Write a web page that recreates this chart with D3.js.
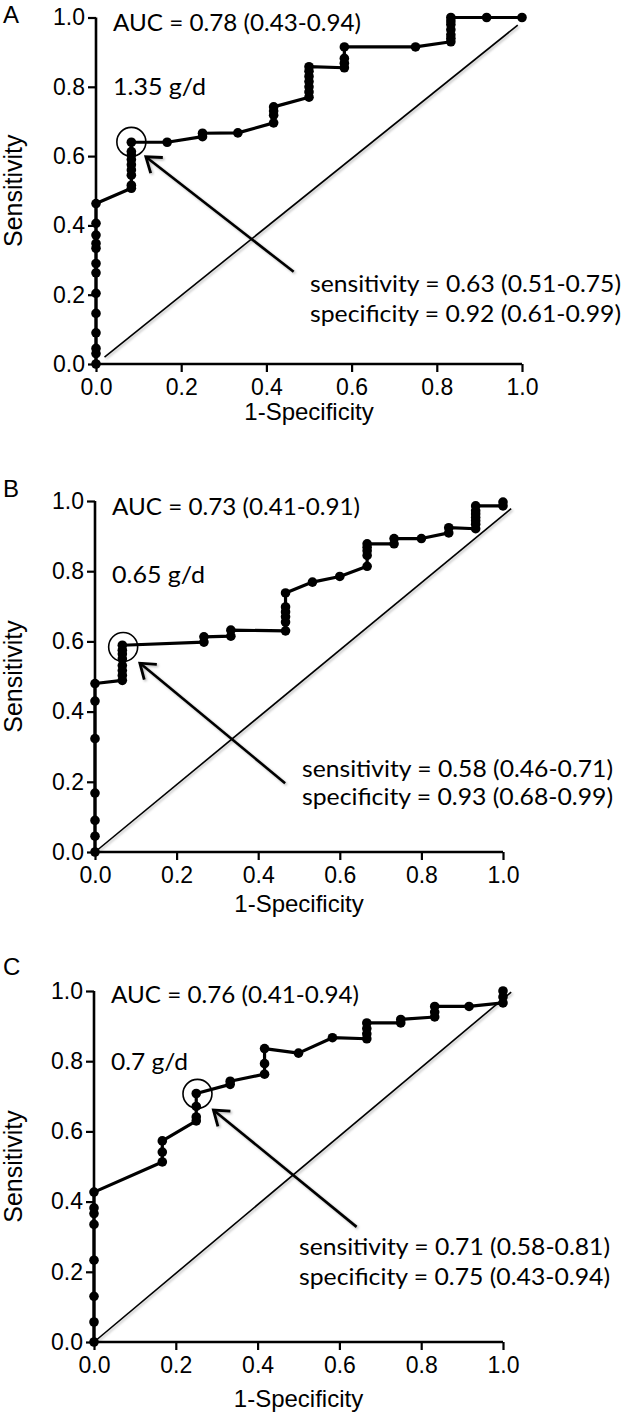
<!DOCTYPE html>
<html><head><meta charset="utf-8">
<script src="https://cdn.jsdelivr.net/npm/d3@7"></script>
<style>body{margin:0;background:#fff}svg{display:block}</style>
</head><body><svg id="c" width="624" height="1418"></svg>
<script>
// ---------- data ----------
const tickValues = [0.0, 0.2, 0.4, 0.6, 0.8, 1.0];
const panelLetters = ["A", "B", "C"];
const xTitle = "1-Specificity";
const yTitle = "Sensitivity";
const aucLabels = ["AUC = 0.78 (0.43-0.94)", "AUC = 0.73 (0.41-0.91)", "AUC = 0.76 (0.41-0.94)"];
const cutoffLabels = ["1.35 g/d", "0.65 g/d", "0.7 g/d"];
const sensLabels = ["sensitivity = 0.63 (0.51-0.75)", "sensitivity = 0.58 (0.46-0.71)", "sensitivity = 0.71 (0.58-0.81)"];
const specLabels = ["specificity = 0.92 (0.61-0.99)", "specificity = 0.93 (0.68-0.99)", "specificity = 0.75 (0.43-0.94)"];

const fprA = [0,0,0,0,0,0,0,0,0,0,0,0,0,
  0.083,0.083,0.083,0.083,0.083,0.083,0.083,0.083,0.083,
  0.167, 0.25,0.25, 0.333, 0.417,0.417,0.417,0.417,
  0.5,0.5,0.5,0.5,0.5,0.5,0.5, 0.583,0.583,0.583,0.583, 0.75,
  0.833,0.833,0.833,0.833,0.833,0.833,0.833, 0.917, 1.0];
const tprA = [0,0.03,0.045,0.09,0.146,0.204,0.263,0.29,0.334,0.348,0.372,0.406,0.463,
  0.507,0.516,0.545,0.56,0.575,0.59,0.603,0.613,0.64,
  0.64, 0.656,0.666, 0.667, 0.696,0.718,0.73,0.742,
  0.77,0.785,0.8,0.815,0.83,0.845,0.858, 0.855,0.868,0.882,0.915, 0.915,
  0.93,0.94,0.95,0.965,0.98,0.99,1.0, 1.0, 1.0];

const fprB = [0,0,0,0,0,0,0,
  0.067,0.067,0.067,0.067,0.067,0.067,0.067,0.067,
  0.267,0.267, 0.333,0.333, 0.467,0.467,0.467,0.467,0.467,0.467,
  0.533, 0.6, 0.667,0.667,0.667,0.667,0.667, 0.733,0.733, 0.8, 0.867,0.867,
  0.933,0.933,0.933,0.933,0.933,0.933,0.933, 1.0,1.0];
const tprB = [0,0.045,0.09,0.168,0.323,0.43,0.48,
  0.489,0.503,0.517,0.531,0.55,0.564,0.575,0.589,
  0.598,0.613, 0.615,0.632, 0.63,0.655,0.67,0.684,0.698,0.738,
  0.769, 0.785, 0.814,0.845,0.858,0.868,0.878, 0.878,0.893, 0.893, 0.909,0.924,
  0.921,0.934,0.944,0.953,0.963,0.972,0.986, 0.986,0.997];

const fprC = [0,0,0,0,0,0,0,0,
  0.167,0.167,0.167, 0.25,0.25,0.25,0.25, 0.333,0.333, 0.417,0.417,0.417,
  0.5, 0.583, 0.667,0.667,0.667,0.667, 0.75,0.75, 0.833,0.833,0.833, 0.917, 1.0,1.0,1.0];
const tprC = [0,0.057,0.13,0.233,0.335,0.366,0.382,0.427,
  0.513,0.541,0.573, 0.63,0.641,0.671,0.708, 0.734,0.743, 0.763,0.793,0.836,
  0.823, 0.867, 0.864,0.878,0.893,0.909, 0.909,0.919, 0.926,0.94,0.956, 0.956, 0.966,0.983,1.0];

// selected cut-off point (circled) and arrow (tail, tip) in data units
const cutPointX = [0.083, 0.069, 0.253];
const cutPointY = [0.641, 0.584, 0.707];
const arrowTailX = [0.464, 0.466, 0.642];
const arrowTailY = [0.266, 0.196, 0.328];
const arrowTipX = [0.117, 0.110, 0.292];
const arrowTipY = [0.598, 0.538, 0.661];
// chance reference line ends
const refStartX = [0.02, 0.0, 0.0], refStartY = [0.02, 0.0, 0.0];
const refEndX = [0.99, 1.02, 1.02], refEndY = [0.978, 0.978, 0.997];

const fprs = [fprA, fprB, fprC];
const tprs = [tprA, tprB, tprC];

// ---------- layout ----------
const layout = [
  {x0: 96, x1: 522, y0: 364, y1: 17.5, letterY: 23, titleY: 420, aucY: 30.5, cutY: 95, sensX: 310, sensY: 292, specY: 322, txtX: 113, cutW: 93},
  {x0: 95, x1: 503, y0: 852, y1: 501, letterY: 497, titleY: 912, aucY: 515, cutY: 583, sensX: 302, sensY: 777, specY: 805, txtX: 112, cutW: 93},
  {x0: 94, x1: 503, y0: 1342, y1: 991, letterY: 975, titleY: 1407, aucY: 1003, cutY: 1070, sensX: 299, sensY: 1255, specY: 1285, txtX: 111, cutW: 77}
];

const svg = d3.select("#c");
const defs = svg.append("defs");
const f = defs.append("filter").attr("id", "sh").attr("x", "-10%").attr("y", "-10%").attr("width", "130%").attr("height", "130%");
f.append("feDropShadow").attr("dx", 1.5).attr("dy", 1.5).attr("stdDeviation", 1.2)
  .attr("flood-color", "#000").attr("flood-opacity", 0.28);

const axisFont = "'Liberation Sans', Arial, Helvetica, sans-serif";
const annFont = "Lato, 'Open Sans', sans-serif";

layout.forEach((L, i) => {
  const g = svg.append("g");
  const x = d3.scaleLinear().domain([0, 1]).range([L.x0, L.x1]);
  const y = d3.scaleLinear().domain([0, 1]).range([L.y0, L.y1]);

  // chance line
  g.append("line")
    .attr("x1", x(refStartX[i])).attr("y1", y(refStartY[i]))
    .attr("x2", x(refEndX[i])).attr("y2", y(refEndY[i]))
    .attr("stroke", "#000").attr("stroke-width", 1.6).attr("filter", "url(#sh)");

  // axes
  const xa = g.append("g").attr("transform", `translate(0,${L.y0})`)
    .call(d3.axisBottom(x).tickValues(tickValues).tickFormat(d3.format(".1f")).tickSize(8).tickPadding(5));
  const ya = g.append("g").attr("transform", `translate(${L.x0},0)`)
    .call(d3.axisLeft(y).tickValues(tickValues).tickFormat(d3.format(".1f")).tickSize(8).tickPadding(3));
  [xa, ya].forEach(a => {
    a.select(".domain").attr("stroke", "#000").attr("stroke-width", 2.6);
    a.selectAll(".tick line").attr("stroke", "#000").attr("stroke-width", 2.2);
    a.selectAll(".tick text").attr("fill", "#000").style("font-family", axisFont).style("font-size", "23px");
  });
  xa.select(".domain").attr("d", `M${L.x0},0H${L.x1}`);
  ya.select(".domain").attr("d", `M0,${L.y0}V${L.y1}`);
  xa.selectAll(".tick text").attr("dy", "0.8em");

  // titles
  g.append("text").attr("x", (L.x0 + L.x1) / 2).attr("y", L.titleY)
    .attr("text-anchor", "middle").style("font-family", axisFont).style("font-size", "24px").text(xTitle);
  g.append("text").attr("transform", `translate(22,${(L.y0 + L.y1) / 2}) rotate(-90)`)
    .attr("text-anchor", "middle").style("font-family", axisFont).style("font-size", "25px").text(yTitle);
  g.append("text").attr("x", 3).attr("y", L.letterY)
    .style("font-family", axisFont).style("font-size", "24px").text(panelLetters[i]);

  // ROC curve
  const pts = fprs[i].map((v, k) => [v, tprs[i][k]]);
  g.append("path").datum(pts)
    .attr("d", d3.line().x(d => x(d[0])).y(d => y(d[1])))
    .attr("fill", "none").attr("stroke", "#000").attr("stroke-width", 3.2).attr("stroke-linejoin", "round");
  g.selectAll("circle.pt").data(pts).join("circle").attr("class", "pt")
    .attr("cx", d => x(d[0])).attr("cy", d => y(d[1])).attr("r", 4.8).attr("fill", "#000");

  // circled cut-off
  g.append("circle").attr("cx", x(cutPointX[i])).attr("cy", y(cutPointY[i])).attr("r", 14.5)
    .attr("fill", "none").attr("stroke", "#000").attr("stroke-width", 1.6);

  // arrow
  const tx = x(arrowTipX[i]), ty = y(arrowTipY[i]);
  const sx = x(arrowTailX[i]), sy = y(arrowTailY[i]);
  const ang = Math.atan2(sy - ty, sx - tx);
  const aw = 0.62, al = 17;
  const p1 = [tx + al * Math.cos(ang - aw), ty + al * Math.sin(ang - aw)];
  const p2 = [tx + al * Math.cos(ang + aw), ty + al * Math.sin(ang + aw)];
  const ag = g.append("g").attr("filter", "url(#sh)");
  ag.append("line").attr("x1", sx).attr("y1", sy).attr("x2", tx + 1.5 * Math.cos(ang)).attr("y2", ty + 1.5 * Math.sin(ang))
    .attr("stroke", "#000").attr("stroke-width", 2.6);
  ag.append("path").attr("d", `M${p1[0]},${p1[1]}L${tx},${ty}L${p2[0]},${p2[1]}`)
    .attr("fill", "none").attr("stroke", "#000").attr("stroke-width", 2.8).attr("stroke-linejoin", "miter");

  // annotations
  const ann = (txt, xx, yy, w) => g.append("text").attr("x", xx).attr("y", yy)
    .attr("textLength", w).attr("lengthAdjust", "spacingAndGlyphs")
    .style("font-family", annFont).style("font-size", "24px").attr("fill", "#000").text(txt);
  ann(aucLabels[i], L.txtX, L.aucY, 248);
  ann(cutoffLabels[i], L.txtX, L.cutY, L.cutW);
  ann(sensLabels[i], L.sensX, L.sensY, 311);
  ann(specLabels[i], L.sensX, L.specY, 311);
});
</script></body></html>
